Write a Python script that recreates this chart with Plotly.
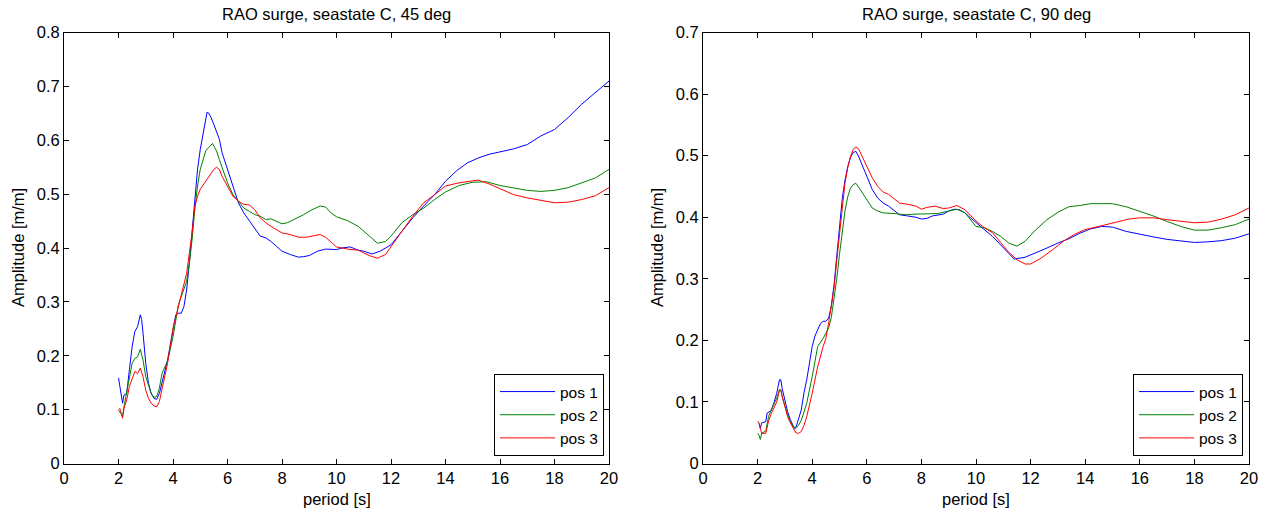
import plotly.graph_objects as go

# ---------------- data: 45 deg ----------------
t45_pos1 = [2.0,2.1,2.15,2.2,2.3,2.4,2.5,2.6,2.7,2.8,2.85,2.9,3.0,3.1,3.2,3.3,3.4,3.5,3.6,3.8,
            4.0,4.1,4.2,4.3,4.4,4.5,4.6,4.7,4.8,4.9,5.0,5.1,5.2,5.25,5.3,5.4,5.5,5.6,5.7,5.8,
            6.0,6.2,6.4,6.6,6.8,7.0,7.2,7.4,7.6,7.8,8.0,8.3,8.6,8.8,9.0,9.3,9.6,10.0,10.2,10.5,
            10.8,11.0,11.3,11.6,12.0,12.4,12.8,13.2,13.6,14.0,14.4,14.8,15.2,15.6,16.0,16.5,17.0,17.5,18.0,18.5,
            19.0,19.5,20.0]
a45_pos1 = [0.159,0.13,0.112,0.127,0.13,0.174,0.217,0.245,0.254,0.276,0.267,0.242,0.186,0.149,0.13,0.121,0.119,0.13,0.149,0.192,
            0.248,0.276,0.279,0.279,0.291,0.322,0.372,0.434,0.496,0.546,0.583,0.614,0.639,0.652,0.651,0.642,0.629,0.617,0.602,0.577,
            0.546,0.515,0.484,0.465,0.45,0.437,0.422,0.419,0.412,0.403,0.394,0.388,0.383,0.384,0.386,0.394,0.398,0.397,0.4,0.402,
            0.396,0.394,0.389,0.394,0.406,0.431,0.456,0.478,0.499,0.524,0.543,0.558,0.567,0.574,0.578,0.584,0.592,0.608,0.620,0.642,
            0.667,0.688,0.710]

t45_pos2 = [2.0,2.1,2.15,2.2,2.3,2.4,2.5,2.6,2.7,2.8,2.9,3.0,3.1,3.2,3.3,3.4,3.5,3.6,3.8,4.0,
            4.2,4.4,4.5,4.6,4.7,4.8,4.9,5.0,5.1,5.2,5.3,5.4,5.45,5.5,5.6,5.7,5.8,6.0,6.2,6.4,
            6.6,6.8,7.0,7.2,7.4,7.6,7.8,8.0,8.2,8.5,8.8,9.1,9.4,9.6,9.8,10.0,10.4,10.8,11.2,11.5,
            11.8,12.0,12.4,12.8,13.2,13.6,14.0,14.5,15.0,15.5,16.0,16.5,17.0,17.5,18.0,18.5,19.0,19.5,20.0]
a45_pos2 = [0.099,0.09,0.088,0.105,0.13,0.161,0.186,0.195,0.198,0.212,0.192,0.161,0.143,0.13,0.123,0.124,0.14,0.168,0.19,0.235,
            0.295,0.322,0.338,0.372,0.415,0.471,0.515,0.546,0.564,0.58,0.586,0.592,0.594,0.589,0.58,0.564,0.549,0.521,0.499,0.487,
            0.474,0.468,0.462,0.459,0.453,0.454,0.45,0.445,0.447,0.454,0.462,0.471,0.478,0.476,0.465,0.458,0.451,0.44,0.422,0.409,
            0.412,0.422,0.447,0.462,0.474,0.49,0.504,0.516,0.522,0.523,0.516,0.512,0.507,0.505,0.507,0.512,0.521,0.53,0.546]

t45_pos3 = [2.0,2.05,2.1,2.15,2.2,2.3,2.4,2.5,2.6,2.7,2.75,2.8,2.9,3.0,3.1,3.2,3.3,3.4,3.5,3.6,
            3.8,4.0,4.2,4.4,4.5,4.6,4.7,4.8,4.9,5.0,5.2,5.4,5.5,5.6,5.7,5.8,6.0,6.2,6.4,6.6,
            6.8,7.0,7.2,7.4,7.6,7.8,8.0,8.3,8.6,8.9,9.2,9.4,9.6,9.8,10.0,10.4,10.8,11.2,11.5,11.8,
            12.0,12.4,12.8,13.2,13.6,14.0,14.5,15.0,15.2,15.6,16.0,16.5,17.0,17.5,18.0,18.5,19.0,19.5,20.0]
a45_pos3 = [0.100,0.102,0.093,0.084,0.102,0.118,0.143,0.158,0.171,0.167,0.174,0.177,0.161,0.136,0.121,0.112,0.107,0.105,0.115,0.14,
            0.186,0.251,0.291,0.329,0.353,0.391,0.428,0.477,0.496,0.509,0.524,0.54,0.546,0.55,0.546,0.533,0.515,0.496,0.487,0.481,
            0.48,0.471,0.456,0.447,0.44,0.434,0.428,0.425,0.42,0.42,0.423,0.425,0.42,0.411,0.402,0.398,0.396,0.386,0.381,0.388,
            0.403,0.431,0.459,0.484,0.499,0.515,0.521,0.525,0.526,0.519,0.51,0.499,0.493,0.488,0.484,0.485,0.49,0.497,0.512]

# ---------------- data: 90 deg ----------------
t90_pos1 = [2.05,2.1,2.15,2.3,2.35,2.5,2.6,2.7,2.8,2.85,2.9,3.0,3.1,3.2,3.3,3.35,3.4,3.5,3.6,3.7,
            3.8,3.9,4.0,4.1,4.2,4.3,4.4,4.5,4.6,4.7,4.8,4.9,5.0,5.1,5.2,5.3,5.4,5.5,5.6,5.7,
            5.8,6.0,6.2,6.4,6.6,6.8,7.0,7.2,7.5,7.8,8.0,8.2,8.4,8.6,8.8,9.0,9.2,9.4,9.6,9.8,
            10.0,10.3,10.6,10.9,11.2,11.4,11.8,12.2,12.6,13.0,13.4,13.8,14.2,14.6,15.0,15.5,16.0,16.5,17.0,17.5,
            18.0,18.5,19.0,19.5,20.0]
a90_pos1 = [0.065,0.057,0.066,0.068,0.082,0.086,0.099,0.114,0.136,0.136,0.122,0.1,0.084,0.071,0.06,0.057,0.058,0.071,0.087,0.115,
            0.136,0.163,0.19,0.207,0.217,0.227,0.231,0.231,0.236,0.255,0.29,0.34,0.39,0.43,0.46,0.482,0.497,0.505,0.507,0.499,
            0.488,0.467,0.445,0.431,0.423,0.418,0.411,0.404,0.402,0.4,0.397,0.398,0.402,0.403,0.405,0.41,0.413,0.412,0.407,0.399,
            0.392,0.38,0.369,0.355,0.342,0.332,0.335,0.342,0.35,0.358,0.365,0.374,0.381,0.385,0.384,0.377,0.372,0.368,0.364,0.361,
            0.359,0.36,0.362,0.366,0.373]

t90_pos2 = [2.0,2.05,2.1,2.15,2.3,2.4,2.5,2.6,2.7,2.8,2.85,2.9,3.0,3.1,3.2,3.3,3.4,3.5,3.6,3.8,
            4.0,4.2,4.4,4.6,4.7,4.8,4.9,5.0,5.1,5.2,5.3,5.4,5.5,5.6,5.7,5.8,6.0,6.2,6.4,6.6,
            7.0,7.4,7.8,8.2,8.6,9.0,9.3,9.6,9.8,10.0,10.3,10.6,10.9,11.2,11.5,11.8,12.2,12.6,13.0,13.4,
            13.8,14.2,14.6,15.0,15.5,16.0,16.5,17.0,17.5,18.0,18.5,19.0,19.5,20.0]
a90_pos2 = [0.049,0.046,0.039,0.049,0.053,0.076,0.087,0.097,0.106,0.12,0.119,0.109,0.092,0.079,0.068,0.06,0.058,0.062,0.07,0.098,
            0.141,0.19,0.203,0.22,0.237,0.266,0.3,0.34,0.38,0.41,0.433,0.447,0.453,0.455,0.449,0.442,0.429,0.415,0.41,0.407,
            0.406,0.404,0.405,0.405,0.406,0.41,0.413,0.407,0.396,0.385,0.383,0.377,0.369,0.358,0.353,0.361,0.38,0.396,0.408,0.417,
            0.419,0.422,0.422,0.422,0.417,0.41,0.402,0.393,0.385,0.379,0.379,0.383,0.388,0.397]

t90_pos3 = [2.0,2.05,2.1,2.15,2.3,2.4,2.5,2.6,2.7,2.8,2.85,2.9,3.0,3.1,3.2,3.3,3.4,3.5,3.6,3.7,
            3.8,4.0,4.2,4.4,4.5,4.6,4.7,4.8,4.9,5.0,5.1,5.2,5.3,5.4,5.5,5.6,5.7,5.8,6.0,6.2,
            6.4,6.6,6.8,7.0,7.2,7.5,7.8,8.0,8.2,8.5,8.8,9.0,9.3,9.6,9.8,10.0,10.3,10.6,10.9,11.2,
            11.5,11.8,12.0,12.4,12.8,13.2,13.6,14.0,14.4,14.8,15.2,15.6,16.0,16.5,17.0,17.5,18.0,18.5,19.0,19.5,
            20.0]
a90_pos3 = [0.069,0.066,0.057,0.049,0.049,0.069,0.081,0.09,0.1,0.119,0.12,0.109,0.09,0.076,0.066,0.059,0.05,0.049,0.052,0.062,
            0.076,0.114,0.157,0.19,0.203,0.228,0.255,0.285,0.33,0.375,0.42,0.455,0.48,0.498,0.51,0.514,0.511,0.502,0.483,0.464,
            0.45,0.441,0.437,0.43,0.423,0.421,0.418,0.413,0.416,0.418,0.414,0.415,0.419,0.412,0.403,0.394,0.383,0.375,0.359,0.343,
            0.331,0.324,0.324,0.334,0.347,0.361,0.372,0.38,0.384,0.388,0.393,0.397,0.399,0.399,0.396,0.393,0.391,0.392,0.397,0.404,
            0.415]

series_names = ["pos 1", "pos 2", "pos 3"]
series_colors = ["#0000FF", "#008000", "#FF0000"]
titles = ["RAO surge, seastate C, 45 deg", "RAO surge, seastate C, 90 deg"]
x_ticks = list(range(0, 21, 2))
y_ticks_45 = [0, 0.1, 0.2, 0.3, 0.4, 0.5, 0.6, 0.7, 0.8]
y_ticks_90 = [0, 0.1, 0.2, 0.3, 0.4, 0.5, 0.6, 0.7]

FONT = "Liberation Sans, Arial, sans-serif"
FS = 16.5
W, H = 1269, 512

fig = go.Figure()

left = [(t45_pos1, a45_pos1), (t45_pos2, a45_pos2), (t45_pos3, a45_pos3)]
right = [(t90_pos1, a90_pos1), (t90_pos2, a90_pos2), (t90_pos3, a90_pos3)]

for (t, a), name, col in zip(left, series_names, series_colors):
    fig.add_trace(go.Scatter(x=t, y=a, mode="lines", name=name,
                             line=dict(color=col, width=1),
                             xaxis="x", yaxis="y", legend="legend"))
for (t, a), name, col in zip(right, series_names, series_colors):
    fig.add_trace(go.Scatter(x=t, y=a, mode="lines", name=name,
                             line=dict(color=col, width=1),
                             xaxis="x2", yaxis="y2", legend="legend2"))

# pixel geometry
lx0, lx1 = 64, 609
rx0, rx1 = 703, 1249
yt, yb = 32.5, 463.5

def px(x):
    return x / W

def py(y):
    return 1 - y / H

axis_common = dict(
    showline=True, linecolor="black", linewidth=1, mirror="ticks",
    ticks="inside", ticklen=5, tickwidth=1, tickcolor="black",
    showgrid=False, zeroline=False, automargin=False,
    tickfont=dict(family=FONT, size=FS, color="black"),
)

legend_common = dict(xanchor="right", yanchor="bottom",
                     bordercolor="black", borderwidth=1, bgcolor="white",
                     font=dict(family=FONT, size=15.5, color="black"),
                     tracegroupgap=0, itemwidth=55)

fig.update_layout(
    width=W, height=H,
    margin=dict(l=0, r=0, t=0, b=0),
    paper_bgcolor="white", plot_bgcolor="white",
    font=dict(family=FONT, size=FS, color="black"),
    xaxis=dict(domain=[px(lx0), px(lx1)], range=[0, 20], tickvals=x_ticks, anchor="y", **axis_common),
    yaxis=dict(domain=[py(yb), py(yt)], range=[0, 0.8], tickvals=y_ticks_45,
               ticktext=[f"{v:g}" for v in y_ticks_45], anchor="x", **axis_common),
    xaxis2=dict(domain=[px(rx0), px(rx1)], range=[0, 20], tickvals=x_ticks, anchor="y2", **axis_common),
    yaxis2=dict(domain=[py(yb), py(yt)], range=[0, 0.7], tickvals=y_ticks_90,
                ticktext=[f"{v:g}" for v in y_ticks_90], anchor="x2", **axis_common),
    legend=dict(x=px(604), y=py(456), **legend_common),
    legend2=dict(x=px(1243), y=py(456), **legend_common),
    showlegend=True,
    hovermode=False,
)

ann = []
for cx, title in zip([(lx0 + lx1) / 2, (rx0 + rx1) / 2], titles):
    ann.append(dict(text=title, x=px(cx), y=py(14), xref="paper", yref="paper",
                    xanchor="center", yanchor="middle", showarrow=False,
                    font=dict(family=FONT, size=FS, color="black")))
    ann.append(dict(text="period [s]", x=px(cx), y=py(499), xref="paper", yref="paper",
                    xanchor="center", yanchor="middle", showarrow=False,
                    font=dict(family=FONT, size=FS, color="black")))
for ax in [18, 657]:
    ann.append(dict(text="Amplitude [m/m]", x=px(ax), y=py((yt + yb) / 2), xref="paper", yref="paper",
                    xanchor="center", yanchor="middle", showarrow=False, textangle=-90,
                    font=dict(family=FONT, size=FS, color="black")))
fig.update_layout(annotations=ann)

fig.write_html("out.html", config={"displayModeBar": False},
               post_script="document.body.style.margin='0px';document.body.style.padding='0px';")
